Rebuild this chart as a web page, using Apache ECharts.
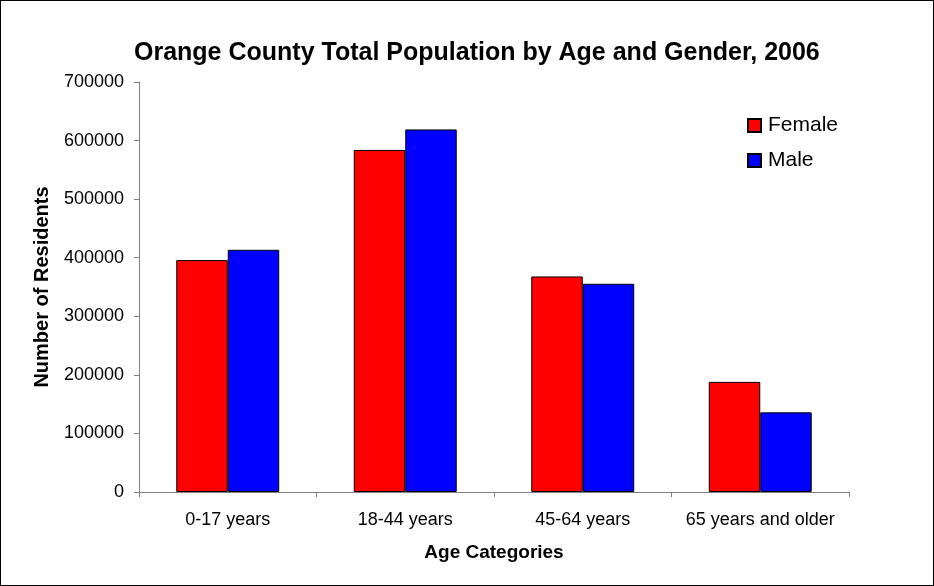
<!DOCTYPE html>
<html>
<head>
<meta charset="utf-8">
<script src="https://cdn.jsdelivr.net/npm/echarts@6/dist/echarts.min.js"></script>
<style>
  html, body { margin: 0; padding: 0; background: #fff; }
  #chart { width: 932px; height: 584px; border: 1px solid #000; }
</style>
</head>
<body>
<div id="chart"></div>
<script>
// data
var categories = ['0-17 years', '18-44 years', '45-64 years', '65 years and older'];
var female = [396000, 584000, 368000, 188000];
var male = [413500, 619000, 355500, 136000];
var yTicks = { min: 0, max: 700000, interval: 100000 };

var font = '"Liberation Sans", Arial, sans-serif';
var myChart = echarts.init(document.getElementById('chart'));
var option = {
    animation: false,
    textStyle: { fontFamily: font },
    title: {
        text: 'Orange County Total Population by Age and Gender, 2006',
        left: 128,
        top: 35,
        textStyle: { fontFamily: font, fontSize: 25, fontWeight: 'bold', color: '#000' }
    },
    legend: {
        orient: 'vertical',
        left: 741,
        top: 109,
        itemWidth: 13,
        itemHeight: 13,
        itemGap: 14,
        icon: 'rect',
        textStyle: { fontFamily: font, fontSize: 21, color: '#000', padding: [0, 0, 0, 2] },
        data: ['Female', 'Male']
    },
    grid: {
        left: 138,
        right: 84,
        top: 81,
        bottom: 93
    },
    xAxis: {
        type: 'category',
        data: categories,
        name: 'Age Categories',
        nameLocation: 'middle',
        nameGap: 51,
        nameTextStyle: { fontFamily: font, fontSize: 19, fontWeight: 'bold', color: '#000' },
        axisLine: { lineStyle: { color: '#808080', width: 1 } },
        axisTick: { show: true, length: 5, lineStyle: { color: '#808080' } },
        axisLabel: { fontFamily: font, fontSize: 18, color: '#000', margin: 19, interval: 0 }
    },
    yAxis: {
        type: 'value',
        min: yTicks.min,
        max: yTicks.max,
        interval: yTicks.interval,
        name: 'Number of Residents',
        nameLocation: 'middle',
        nameGap: 87,
        nameTextStyle: { fontFamily: font, fontSize: 20, fontWeight: 'bold', color: '#000' },
        axisLine: { show: true, lineStyle: { color: '#808080', width: 1 } },
        axisTick: { show: true, length: 5, lineStyle: { color: '#808080' } },
        axisLabel: {
            fontFamily: font, fontSize: 18, color: '#000', margin: 15,
            formatter: function (v) { return String(v); }
        },
        splitLine: { show: false }
    },
    series: [
        {
            name: 'Female',
            type: 'bar',
            data: female,
            barGap: '0%',
            barCategoryGap: '42%',
            itemStyle: { color: '#ff0000', borderColor: '#000', borderWidth: 1 }
        },
        {
            name: 'Male',
            type: 'bar',
            data: male,
            itemStyle: { color: '#0000ff', borderColor: '#000', borderWidth: 1 }
        }
    ]
};
myChart.setOption(option);
</script>
</body>
</html>
